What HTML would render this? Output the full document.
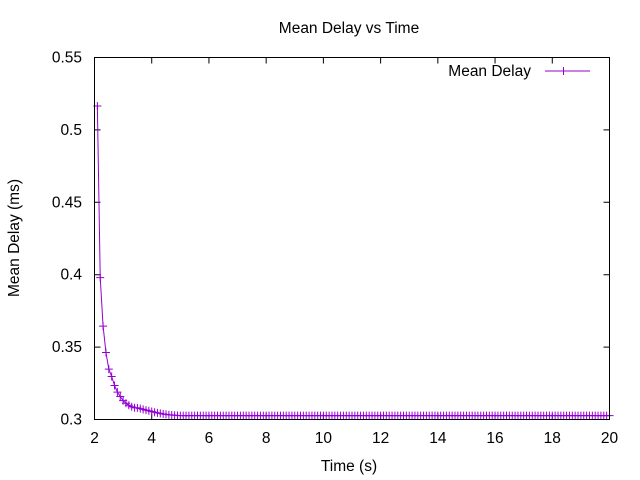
<!DOCTYPE html>
<html><head><meta charset="utf-8"><style>
body{margin:0;background:#fff;}
svg{display:block;font-family:"Liberation Sans",sans-serif;font-size:15.5px;}
</style></head><body>
<svg id="chart" width="640" height="480">
<rect width="640" height="480" fill="#fff"/>
<text x="349" y="33" text-anchor="middle">Mean Delay vs Time</text>
<text x="349" y="471" text-anchor="middle">Time (s)</text>
<text transform="translate(19,238) rotate(-90)" text-anchor="middle">Mean Delay (ms)</text>
<g id="axes"></g>
<g id="series"></g>
<g>
<text x="531" y="76" text-anchor="end">Mean Delay</text>
<line x1="545" y1="71" x2="590" y2="71" stroke="#9400d3" stroke-width="1"/>
<path d="M563.5 67v8M559.5 71h8" stroke="#9400d3"/>
</g>
<rect x="94.5" y="57.5" width="515" height="362" fill="none" stroke="#000"/>
</svg>
<script>
const xTicks=[2,4,6,8,10,12,14,16,18,20];
const yTicks=[0.3,0.35,0.4,0.45,0.5,0.55];
const yTickLabels=["0.3","0.35","0.4","0.45","0.5","0.55"];
const times=[2.1,2.2,2.3,2.4,2.5,2.6,2.7,2.8,2.9,3.0,3.1,3.2,3.3,3.4,3.5,3.6,3.7,3.8,3.9,4.0,4.1,4.2,4.3,4.4,4.5,4.6,4.7,4.8,4.9,5.0,
5.1,5.2,5.3,5.4,5.5,5.6,5.7,5.8,5.9,6.0,6.1,6.2,6.3,6.4,6.5,6.6,6.7,6.8,6.9,7.0,7.1,7.2,7.3,7.4,7.5,7.6,7.7,7.8,7.9,8.0,
8.1,8.2,8.3,8.4,8.5,8.6,8.7,8.8,8.9,9.0,9.1,9.2,9.3,9.4,9.5,9.6,9.7,9.8,9.9,10.0,10.1,10.2,10.3,10.4,10.5,10.6,10.7,10.8,10.9,11.0,
11.1,11.2,11.3,11.4,11.5,11.6,11.7,11.8,11.9,12.0,12.1,12.2,12.3,12.4,12.5,12.6,12.7,12.8,12.9,13.0,13.1,13.2,13.3,13.4,13.5,13.6,13.7,13.8,13.9,14.0,
14.1,14.2,14.3,14.4,14.5,14.6,14.7,14.8,14.9,15.0,15.1,15.2,15.3,15.4,15.5,15.6,15.7,15.8,15.9,16.0,16.1,16.2,16.3,16.4,16.5,16.6,16.7,16.8,16.9,17.0,
17.1,17.2,17.3,17.4,17.5,17.6,17.7,17.8,17.9,18.0,18.1,18.2,18.3,18.4,18.5,18.6,18.7,18.8,18.9,19.0,19.1,19.2,19.3,19.4,19.5,19.6,19.7,19.8,19.9,20.0];
const delays=[0.5165,0.398,0.3645,0.3463,0.3348,0.3297,0.3235,0.3189,0.3159,0.313,0.3112,0.3098,0.3088,0.3081,0.308,0.3075,0.307,0.3065,0.306,0.3055,0.305,0.3046,0.3042,0.3038,0.3035,0.3033,0.3031,0.3029,0.3028,0.3027,
0.3027,0.3027,0.3027,0.3027,0.3027,0.3027,0.3027,0.3027,0.3027,0.3027,0.3027,0.3027,0.3027,0.3027,0.3027,0.3027,0.3027,0.3027,0.3027,0.3027,0.3027,0.3027,0.3027,0.3027,0.3027,0.3027,0.3027,0.3027,0.3027,0.3027,
0.3027,0.3027,0.3027,0.3027,0.3027,0.3027,0.3027,0.3027,0.3027,0.3027,0.3027,0.3027,0.3027,0.3027,0.3027,0.3027,0.3027,0.3027,0.3027,0.3027,0.3027,0.3027,0.3027,0.3027,0.3027,0.3027,0.3027,0.3027,0.3027,0.3027,
0.3027,0.3027,0.3027,0.3027,0.3027,0.3027,0.3027,0.3027,0.3027,0.3027,0.3027,0.3027,0.3027,0.3027,0.3027,0.3027,0.3027,0.3027,0.3027,0.3027,0.3027,0.3027,0.3027,0.3027,0.3027,0.3027,0.3027,0.3027,0.3027,0.3027,
0.3027,0.3027,0.3027,0.3027,0.3027,0.3027,0.3027,0.3027,0.3027,0.3027,0.3027,0.3027,0.3027,0.3027,0.3027,0.3027,0.3027,0.3027,0.3027,0.3027,0.3027,0.3027,0.3027,0.3027,0.3027,0.3027,0.3027,0.3027,0.3027,0.3027,
0.3027,0.3027,0.3027,0.3027,0.3027,0.3027,0.3027,0.3027,0.3027,0.3027,0.3027,0.3027,0.3027,0.3027,0.3027,0.3027,0.3027,0.3027,0.3027,0.3027,0.3027,0.3027,0.3027,0.3027,0.3027,0.3027,0.3027,0.3027,0.3027,0.3027];
const NS="http://www.w3.org/2000/svg";
const X0=94.5,X1=609.5,Y0=419.5,Y1=57.5;
function sx(v){return X0+(v-2)/(20-2)*(X1-X0);}
function sy(v){return Y0-(v-0.3)/(0.55-0.3)*(Y0-Y1);}
function mk(tag,attrs,parent){const e=document.createElementNS(NS,tag);for(const k in attrs)e.setAttribute(k,attrs[k]);parent.appendChild(e);return e;}
const axes=document.getElementById('axes');
xTicks.forEach(t=>{
  const x=sx(t);
  const l=mk('path',{d:`M${x} ${Y0}v-6M${x} ${Y1}v6`,stroke:'#000'},axes);
  
  
  const tx=mk('text',{x:x,y:443,'text-anchor':'middle'},axes);tx.textContent=t;
  
  
});
yTicks.forEach((t,i)=>{
  const y=sy(t);
  const l=mk('path',{d:`M${X0} ${y}h6M${X1} ${y}h-6`,stroke:'#000'},axes);
  
  
  const tx=mk('text',{x:82,y:y+5,'text-anchor':'end'},axes);tx.textContent=yTickLabels[i];
  
  
});
const g=document.getElementById('series');
const pts=times.map((t,i)=>[sx(t),sy(delays[i])]);
const line=mk('polyline',{points:pts.map(p=>p.join(',')).join(' '),fill:'none',stroke:'#9400d3','stroke-width':1},g);


pts.forEach(p=>{
  const m=mk('path',{d:`M${p[0]} ${p[1]-4}v8M${p[0]-4} ${p[1]}h8`,stroke:'#9400d3','stroke-width':1},g);
  
  
});
</script>
</body></html>
